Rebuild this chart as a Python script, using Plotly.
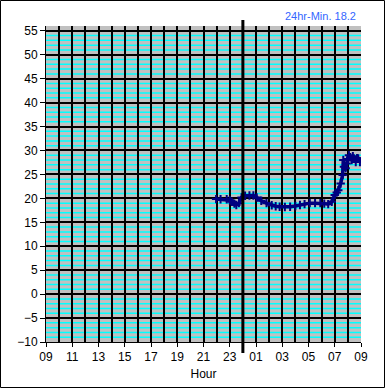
import plotly.graph_objects as go

# Data (hours since 09:00 of day 1 expressed as 9..33)
hours = [21.96, 22.3, 22.77, 23.0, 23.15, 23.35, 23.5, 23.7, 23.9, 24.17, 24.5, 24.8, 25.05,
         25.4, 25.8, 26.2, 26.5, 26.8, 27.2, 27.6, 28.0, 28.35, 28.7, 29.1, 29.5, 29.9,
         30.2, 30.5, 30.77, 31.0, 31.15, 31.27, 31.45, 31.6, 31.65, 31.7, 31.83, 31.9,
         32.0, 32.08, 32.18, 32.29, 32.38, 32.46, 32.6, 32.7, 32.79, 32.92]
temps = [19.85, 19.8, 19.8, 19.6, 19.3, 18.9, 18.6, 19.0, 20.2, 20.55, 20.6, 20.6, 20.2,
         19.5, 19.0, 18.55, 18.35, 18.25, 18.2, 18.25, 18.4, 18.6, 18.8, 19.0, 19.0, 19.0,
         18.9, 18.8, 19.3, 20.7, 21.2, 21.7, 23.1, 24.9, 28.0, 26.6, 26.3, 27.3,
         28.2, 29.0, 28.6, 28.0, 28.8, 28.35, 27.6, 28.4, 28.35, 27.6]

x_tickvals = [9, 11, 13, 15, 17, 19, 21, 23, 25, 27, 29, 31, 33]
x_ticktext = ["09", "11", "13", "15", "17", "19", "21", "23", "01", "03", "05", "07", "09"]
minor_y = [v for v in range(-10, 56) if v % 5 != 0]
title_text = "24hr-Min. 18.2"
x_title = "Hour"

L, R, T, B = 46, 24, 26, 46
W, H = 385, 388
pw, ph = W - L - R, H - T - B

font = dict(family="Liberation Sans, Arial, sans-serif", size=12, color="black")

fig = go.Figure()
fig.add_trace(go.Scatter(x=hours, y=temps, mode="lines+markers",
                         line=dict(color="#000080", width=3.5),
                         marker=dict(symbol="cross-thin", size=6, color="#000080",
                                     line=dict(color="#000080", width=2)),
                         showlegend=False))

fig.update_layout(
    width=W, height=H,
    margin=dict(l=L, r=R, t=T, b=B, autoexpand=False),
    paper_bgcolor="white",
    plot_bgcolor="#c0c0c0",
    font=font,
    xaxis=dict(range=[9, 33], tickvals=x_tickvals, ticktext=x_ticktext,
               showgrid=True, gridcolor="black", gridwidth=2,
               minor=dict(dtick=1, tick0=9, showgrid=True, gridcolor="black", gridwidth=2),
               ticks="outside", ticklen=4, tickcolor="black",
               showline=True, linecolor="black", linewidth=1, zeroline=False,
               title=dict(text=x_title, font=font, standoff=6),
               tickfont=font, automargin=False),
    yaxis=dict(range=[-10, 56], tick0=-10, dtick=5,
               showgrid=True, gridcolor="black", gridwidth=2,
               ticks="outside", ticklen=5, tickcolor="black",
               showline=True, linecolor="black", linewidth=1, zeroline=False,
               tickfont=font, automargin=False),
)

# cyan minor horizontal lines, drawn beneath the black grid
for v in minor_y:
    fig.add_shape(type="line", xref="paper", yref="y", x0=0, x1=1, y0=v, y1=v,
                  line=dict(color="#00ffff", width=1.5), layer="below")

# midnight marker line
fig.add_shape(type="line", xref="x", yref="paper", x0=24, x1=24,
              y0=-11 / ph, y1=1 + 6 / ph, line=dict(color="black", width=3))

# outer border of the picture
fig.add_shape(type="rect", xref="paper", yref="paper",
              x0=(0.5 - L) / pw, x1=(W - 0.5 - L) / pw,
              y0=(T + ph - (H - 0.5)) / ph, y1=(T + ph - 0.5) / ph,
              line=dict(color="black", width=1), fillcolor="rgba(0,0,0,0)", layer="above")

fig.add_annotation(text=title_text, xref="paper", yref="paper",
                   x=(358 - L) / pw, y=(T + ph - 16) / ph, xanchor="right", yanchor="middle",
                   showarrow=False, font=dict(family="Liberation Sans, Arial, sans-serif",
                                              size=11, color="#3366ff"))

fig.write_html("out.html", config={"displayModeBar": False},
               post_script="document.body.style.margin='0';document.body.style.overflow='hidden';")
